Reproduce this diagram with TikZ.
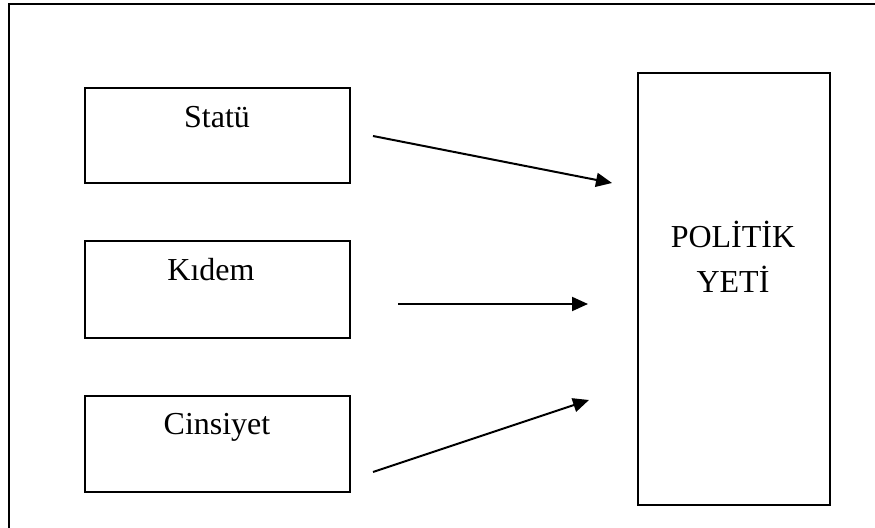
\documentclass[tikz,border=0pt]{standalone}
\usepackage{fontspec}
\setmainfont{Liberation Serif}
\usetikzlibrary{arrows.meta}
\begin{document}
\begin{tikzpicture}[x=0.5pt,y=-0.5pt,
  frame/.style={draw=black,line width=1.1pt},
  box/.style={draw=black,line width=1.1pt,rectangle,inner sep=0pt,anchor=north west},
  txt/.style={font=\fontsize{16}{20}\selectfont,anchor=base,inner sep=0pt},
  arr/.style={line width=1pt,-{Triangle[length=8pt,width=7pt]}}]
\useasboundingbox (0,0) rectangle (875,528);
\begin{scope}
\clip (0,0) rectangle (875,528);
\draw[frame] (9,4) rectangle (900,560);
\end{scope}
\node[box,minimum width=132.5pt,minimum height=47.5pt] (statu) at (84,87) {};
\node[box,minimum width=132.5pt,minimum height=48.5pt] (kidem) at (84,240) {};
\node[box,minimum width=132.5pt,minimum height=48pt] (cins) at (84,395) {};
\node[box,minimum width=96pt,minimum height=216pt] (pol) at (637,72) {};
\node[txt] (tstatu) at (217,128) {Statü};
\node[txt] (tkidem) at (211,281) {Kıdem};
\node[txt] (tcins) at (217,435) {Cinsiyet};
\node[txt] (tpol1) at (733,248) {POLİTİK};
\node[txt] (tpol2) at (733,293) {YETİ};
\coordinate (a1s) at (373,136);
\coordinate (a1e) at (612,183);
\coordinate (a2s) at (398,304);
\coordinate (a2e) at (588,304);
\coordinate (a3s) at (373,472);
\coordinate (a3e) at (589,400);
\draw[arr] (a1s) -- (a1e);
\draw[arr] (a2s) -- (a2e);
\draw[arr] (a3s) -- (a3e);
\end{tikzpicture}
\end{document}
